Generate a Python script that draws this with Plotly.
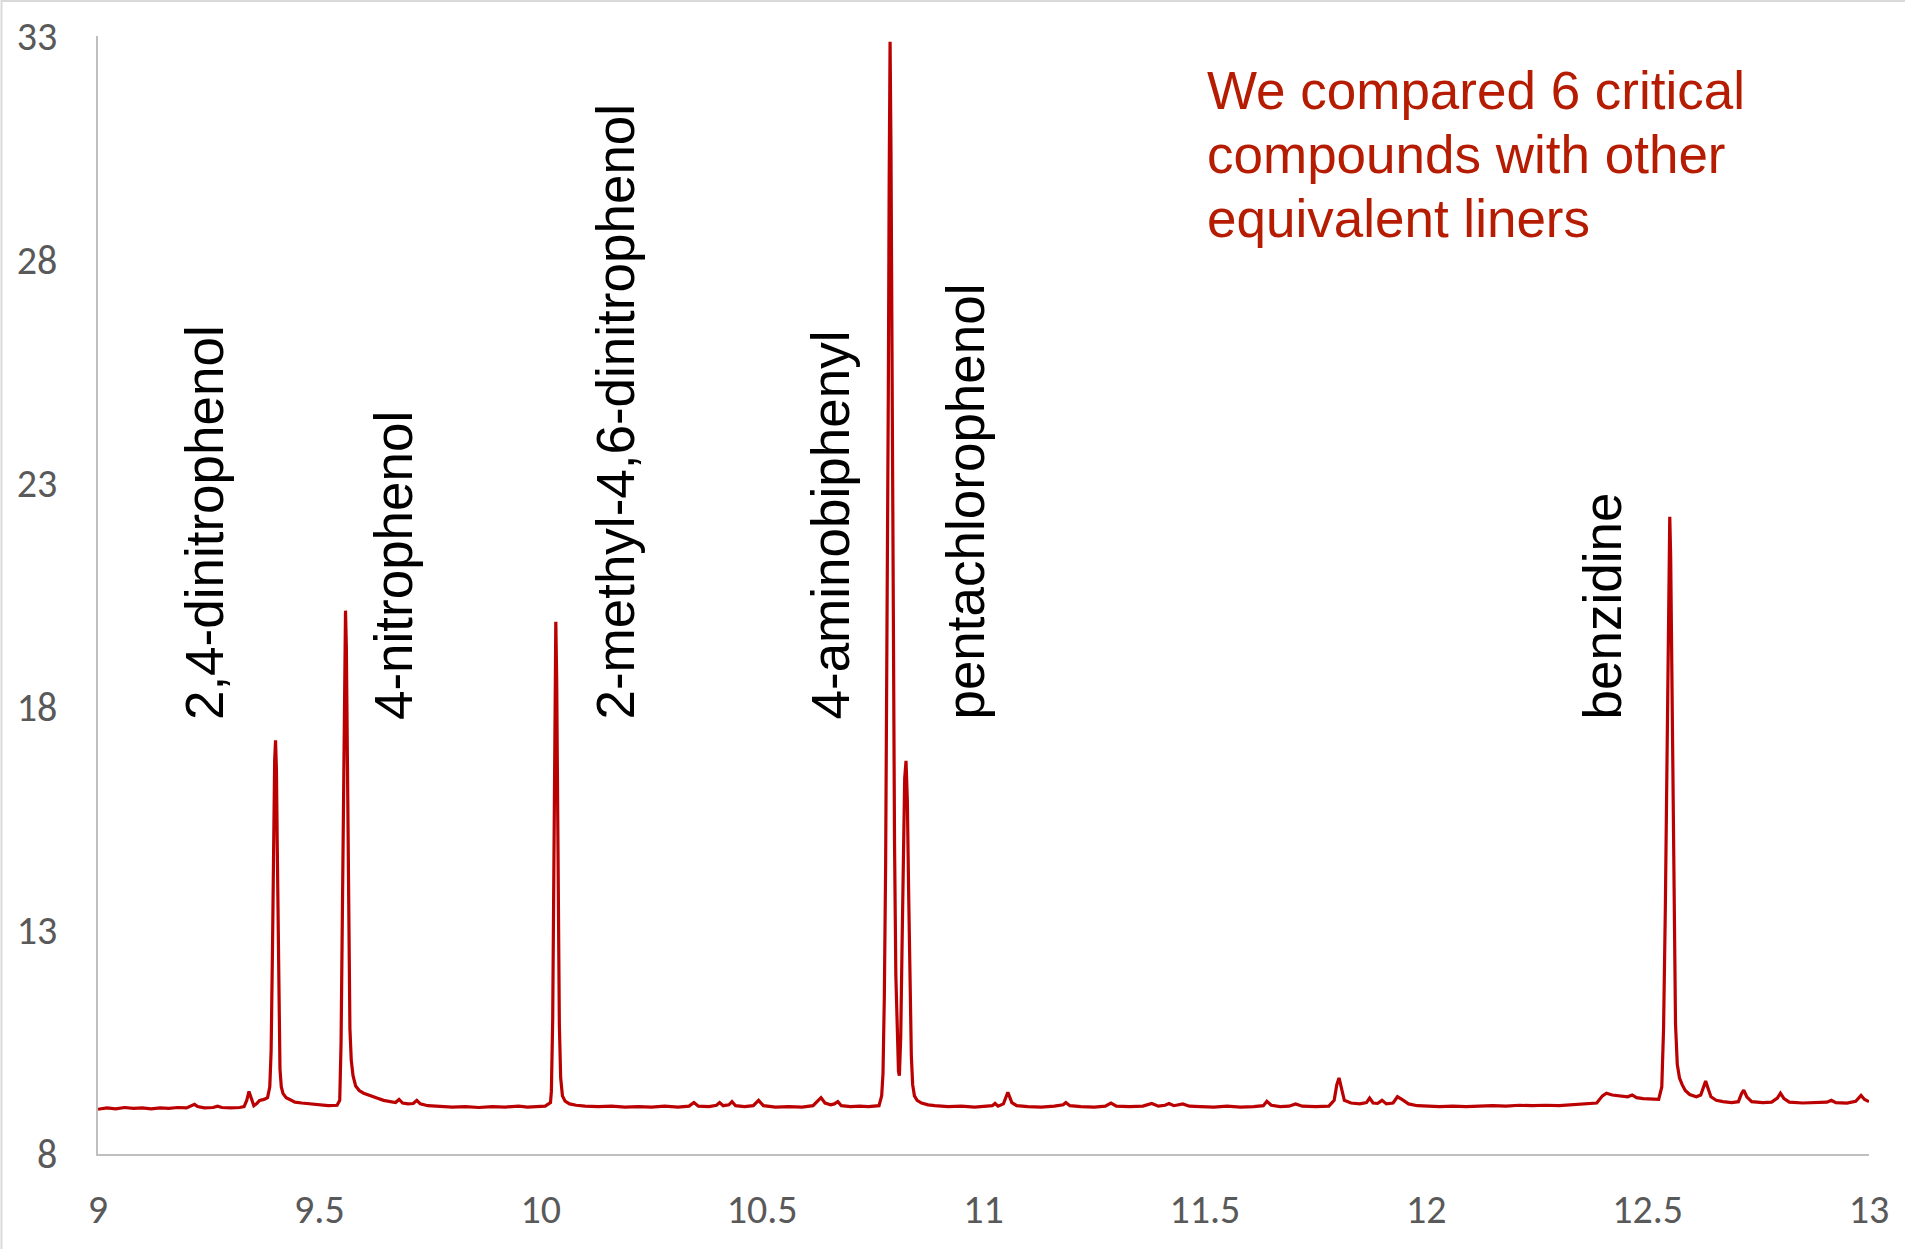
import plotly.graph_objects as go

# ---------------- data ----------------
# (retention time [min], detector response)
baseline_start = [
    (9.000, 9.00), (9.020, 9.03), (9.040, 9.01), (9.060, 9.04), (9.080, 9.02),
    (9.100, 9.03), (9.120, 9.01), (9.140, 9.03), (9.160, 9.02), (9.180, 9.04),
    (9.200, 9.03), (9.212, 9.08), (9.218, 9.11), (9.225, 9.06), (9.240, 9.03),
    (9.260, 9.04), (9.270, 9.07), (9.280, 9.04), (9.300, 9.03), (9.320, 9.04),
    (9.330, 9.06), (9.336, 9.20), (9.341, 9.40), (9.346, 9.25), (9.352, 9.08),
    (9.358, 9.12), (9.365, 9.20), (9.375, 9.22), (9.383, 9.26), (9.388, 9.50),
]
peak_24_dinitrophenol = [
    (9.391, 10.3), (9.394, 12.5), (9.397, 15.3), (9.399, 16.8), (9.401, 17.25),
    (9.403, 16.6), (9.405, 14.8), (9.407, 12.6), (9.409, 10.9), (9.411, 9.9),
    (9.414, 9.5), (9.418, 9.35), (9.425, 9.26), (9.435, 9.20), (9.445, 9.16),
    (9.460, 9.14), (9.480, 9.12), (9.500, 9.10), (9.520, 9.08), (9.540, 9.09),
    (9.546, 9.20),
]
peak_4_nitrophenol = [
    (9.549, 10.5), (9.552, 13.5), (9.555, 17.5), (9.557, 19.6), (9.559, 20.15),
    (9.561, 19.3), (9.563, 17.0), (9.565, 14.2), (9.567, 12.0), (9.569, 10.8),
    (9.572, 10.1), (9.576, 9.75), (9.582, 9.52), (9.590, 9.42), (9.600, 9.36),
    (9.615, 9.30), (9.630, 9.25), (9.645, 9.20), (9.660, 9.17), (9.672, 9.15),
    (9.680, 9.22), (9.688, 9.14), (9.700, 9.12), (9.712, 9.13), (9.720, 9.20),
    (9.728, 9.12), (9.745, 9.08), (9.770, 9.06), (9.800, 9.05), (9.830, 9.06),
    (9.860, 9.04), (9.890, 9.06), (9.920, 9.05), (9.950, 9.07), (9.970, 9.05),
    (9.990, 9.06), (10.010, 9.07), (10.022, 9.15),
]
peak_2_methyl_46_dinitrophenol = [
    (10.024, 9.4), (10.027, 11.0), (10.030, 14.5), (10.032, 18.0), (10.034, 19.9),
    (10.036, 18.6), (10.038, 15.8), (10.040, 12.8), (10.042, 10.9), (10.045, 9.7),
    (10.049, 9.30), (10.055, 9.18), (10.065, 9.12), (10.080, 9.09), (10.100, 9.07),
    (10.130, 9.06), (10.160, 9.07), (10.190, 9.05), (10.220, 9.06), (10.250, 9.05),
    (10.280, 9.07), (10.310, 9.05), (10.335, 9.07), (10.346, 9.15), (10.356, 9.07),
    (10.380, 9.06), (10.397, 9.09), (10.404, 9.15), (10.412, 9.08), (10.425, 9.10),
    (10.432, 9.17), (10.440, 9.08), (10.460, 9.06), (10.480, 9.08), (10.492, 9.20),
    (10.503, 9.08), (10.530, 9.05), (10.560, 9.06), (10.590, 9.05), (10.615, 9.08),
    (10.625, 9.18), (10.633, 9.26), (10.642, 9.14), (10.655, 9.10), (10.663, 9.12),
    (10.671, 9.17), (10.679, 9.08), (10.700, 9.06), (10.720, 9.07), (10.740, 9.06),
    (10.764, 9.08), (10.770, 9.30),
]
peak_4_aminobiphenyl = [
    (10.773, 9.8), (10.776, 11.5), (10.779, 14.5), (10.782, 19.0), (10.785, 25.0),
    (10.787, 29.8), (10.789, 32.87), (10.791, 30.5), (10.793, 26.0), (10.796, 20.0),
    (10.799, 15.0), (10.802, 12.0), (10.805, 10.6), (10.808, 9.85), (10.810, 9.75),
]
peak_pentachlorophenol = [
    (10.813, 10.6), (10.816, 12.6), (10.819, 15.0), (10.822, 16.4), (10.825, 16.79),
    (10.828, 15.9), (10.831, 13.8), (10.834, 11.6), (10.837, 10.2), (10.840, 9.55),
    (10.844, 9.30), (10.850, 9.20), (10.860, 9.14), (10.875, 9.10), (10.890, 9.08),
    (10.920, 9.06), (10.950, 9.07), (10.980, 9.05), (11.005, 9.07), (11.020, 9.08),
    (11.026, 9.13), (11.033, 9.07), (11.045, 9.12), (11.055, 9.38), (11.064, 9.15),
    (11.075, 9.08), (11.100, 9.06), (11.130, 9.05), (11.160, 9.07), (11.180, 9.10),
    (11.186, 9.15), (11.195, 9.08), (11.220, 9.06), (11.250, 9.05), (11.275, 9.07),
    (11.288, 9.14), (11.300, 9.07), (11.330, 9.06), (11.360, 9.07), (11.380, 9.13),
    (11.395, 9.07), (11.410, 9.09), (11.419, 9.13), (11.430, 9.08), (11.450, 9.12),
    (11.465, 9.07), (11.490, 9.06), (11.520, 9.05), (11.550, 9.07), (11.580, 9.05),
    (11.610, 9.06), (11.632, 9.08), (11.640, 9.18), (11.650, 9.09), (11.670, 9.06),
    (11.690, 9.07), (11.705, 9.12), (11.720, 9.07), (11.750, 9.06), (11.780, 9.07),
    (11.792, 9.20), (11.798, 9.55), (11.803, 9.70), (11.808, 9.50), (11.815, 9.20),
    (11.830, 9.14), (11.850, 9.12), (11.865, 9.15), (11.872, 9.25), (11.880, 9.14),
    (11.890, 9.13), (11.900, 9.20), (11.910, 9.12), (11.925, 9.14), (11.935, 9.28),
    (11.945, 9.22), (11.960, 9.12), (11.980, 9.08), (12.000, 9.07), (12.030, 9.06),
    (12.060, 9.07), (12.090, 9.06), (12.120, 9.07), (12.150, 9.08), (12.180, 9.07),
    (12.210, 9.09), (12.240, 9.08), (12.270, 9.09), (12.300, 9.08), (12.330, 9.10),
    (12.360, 9.11), (12.385, 9.14), (12.398, 9.30), (12.407, 9.36), (12.420, 9.32),
    (12.440, 9.30), (12.455, 9.28), (12.465, 9.32), (12.475, 9.26), (12.490, 9.24),
    (12.510, 9.22), (12.525, 9.22), (12.532, 9.50),
]
peak_benzidine = [
    (12.536, 10.8), (12.540, 13.5), (12.543, 16.5), (12.546, 19.8), (12.548, 21.6),
    (12.550, 22.25), (12.552, 21.4), (12.554, 19.3), (12.557, 15.8), (12.560, 12.8),
    (12.563, 10.9), (12.567, 10.0), (12.572, 9.70), (12.578, 9.55), (12.585, 9.42),
    (12.595, 9.33), (12.610, 9.28), (12.620, 9.32), (12.627, 9.55), (12.631, 9.63),
    (12.636, 9.48), (12.643, 9.28), (12.655, 9.20), (12.670, 9.17), (12.690, 9.15),
    (12.705, 9.17), (12.712, 9.35), (12.717, 9.43), (12.724, 9.28), (12.735, 9.17),
    (12.760, 9.15), (12.780, 9.16), (12.793, 9.25), (12.800, 9.36), (12.808, 9.24),
    (12.820, 9.16), (12.850, 9.14), (12.880, 9.15), (12.905, 9.16), (12.915, 9.20),
    (12.925, 9.15), (12.950, 9.14), (12.970, 9.18), (12.982, 9.31), (12.990, 9.22),
    (13.000, 9.17),
]

compound_names = [
    "2,4-dinitrophenol", "4-nitrophenol", "2-methyl-4,6-dinitrophenol",
    "4-aminobiphenyl", "pentachlorophenol", "benzidine",
]
note_lines = ["We compared 6 critical", "compounds with other", "equivalent liners"]

x_ticks = [9, 9.5, 10, 10.5, 11, 11.5, 12, 12.5, 13]
y_ticks = [8, 13, 18, 23, 28, 33]

# ---------------- build ----------------
segments = [baseline_start, peak_24_dinitrophenol, peak_4_nitrophenol,
            peak_2_methyl_46_dinitrophenol, peak_4_aminobiphenyl,
            peak_pentachlorophenol, peak_benzidine]
pts = [p for seg in segments for p in seg]
time_min = [p[0] for p in pts]
signal = [p[1] for p in pts]

W, H = 1905, 1249
ML, MR, MT, MB = 98, 36, 36, 95
PW, PH = W - ML - MR, H - MT - MB
X0, X1, Y0, Y1 = 9, 13, 8, 33


def dx(px):  # pixel x -> data x
    return X0 + (px - ML) / PW * (X1 - X0)


def dy(py):  # pixel y -> data y
    return Y0 + (MT + PH - py) / PH * (Y1 - Y0)


fig = go.Figure()
fig.add_trace(go.Scatter(
    x=time_min, y=signal, mode="lines",
    line=dict(color="#BA0000", width=3.2), hoverinfo="skip",
))

# rotated compound labels (centre x in pixels of the label box)
label_centres_px = [204.6, 393.6, 614.6, 830.0, 964.6, 1602.0]
annotations = []
for name, cx in zip(compound_names, label_centres_px):
    annotations.append(dict(
        x=dx(cx), y=dy(720), xref="x", yref="y", text=name, textangle=-90,
        showarrow=False, xanchor="center", yanchor="bottom",
        font=dict(family="Liberation Sans, Arial, sans-serif", size=53, color="#000000"),
        borderpad=0, borderwidth=0,
    ))

note_centres_py = [90.9, 154.9, 218.9]
for line, cy in zip(note_lines, note_centres_py):
    annotations.append(dict(
        x=dx(1207), y=dy(cy), xref="x", yref="y", text=line,
        showarrow=False, xanchor="left", yanchor="middle",
        font=dict(family="Liberation Sans, Arial, sans-serif", size=53, color="#B51C02"),
        borderpad=0, borderwidth=0,
    ))

tick_font = dict(family="Carlito, Calibri, Open Sans, sans-serif", size=40, color="#595959")

fig.update_layout(
    width=W, height=H,
    margin=dict(l=ML, r=MR, t=MT, b=MB, pad=0, autoexpand=False),
    paper_bgcolor="white", plot_bgcolor="white",
    showlegend=False,
    annotations=annotations,
    xaxis=dict(
        range=[X0, X1], tickvals=x_ticks, ticktext=[f"{v:g}" for v in x_ticks],
        showgrid=False, zeroline=False, showline=True, linecolor="#BFBFBF", linewidth=1.5,
        ticks="", tickfont=tick_font, ticklabelstandoff=19, automargin=False,
    ),
    yaxis=dict(
        range=[Y0, Y1], tickvals=y_ticks, ticktext=[str(v) for v in y_ticks],
        showgrid=False, zeroline=False, showline=True, linecolor="#BFBFBF", linewidth=1.5,
        ticks="", tickfont=tick_font, ticklabelstandoff=31, automargin=False,
    ),
    shapes=[
        dict(type="line", xref="paper", yref="paper",
             x0=(1.5 - ML) / PW, x1=1.0 + MR / PW, y0=1 + (MT - 1) / PH, y1=1 + (MT - 1) / PH,
             line=dict(color="#D9D9D9", width=2)),
        dict(type="line", xref="paper", yref="paper",
             x0=(1.5 - ML) / PW, x1=(1.5 - ML) / PW, y0=-MB / PH, y1=1 + MT / PH,
             line=dict(color="#D9D9D9", width=2)),
    ],
)

fig.write_html(
    "out.html",
    config={"displayModeBar": False},
    post_script="document.body.style.margin='0';document.body.style.overflow='hidden';",
)
